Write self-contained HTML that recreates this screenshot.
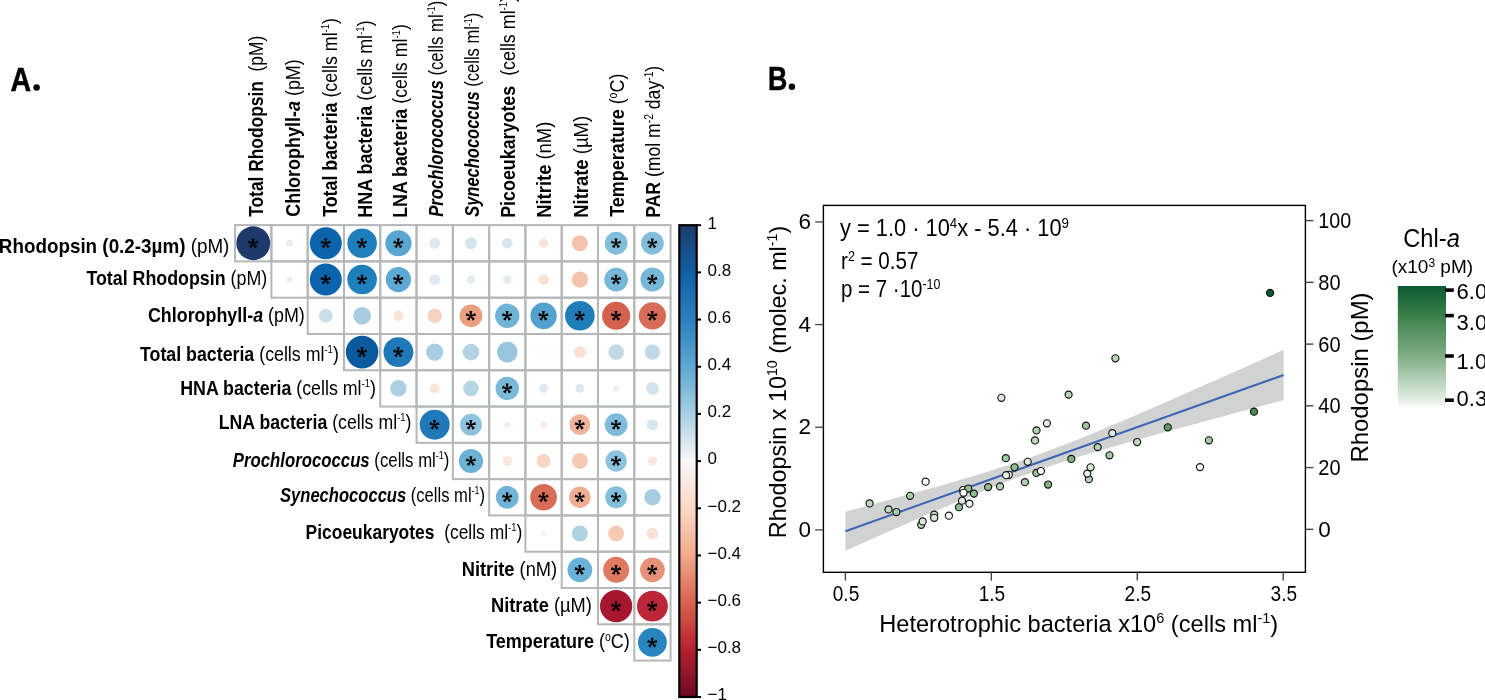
<!DOCTYPE html><html><head><meta charset="utf-8"><style>html,body{margin:0;padding:0;background:#fff;}svg{display:block;will-change:transform}text{font-family:'Liberation Sans', sans-serif;}</style></head><body>
<svg width="1485" height="700" viewBox="0 0 1485 700">
<rect width="1485" height="700" fill="#fff"/>
<text x="10.4" y="91" font-size="32.5" font-weight="bold" stroke="#000" stroke-width="0.5" textLength="20.6" lengthAdjust="spacingAndGlyphs">A</text><circle cx="36.6" cy="87.6" r="3.25" fill="#000"/>
<text x="768.0" y="90.1" font-size="32.5" font-weight="bold" stroke="#000" stroke-width="0.5" textLength="19.3" lengthAdjust="spacingAndGlyphs">B</text><circle cx="791.9" cy="86.8" r="3.2" fill="#000"/>
<g fill="none" stroke="#b4b8b8" stroke-width="2"><rect x="235.10" y="225.10" width="36.29" height="36.29"/><rect x="271.39" y="225.10" width="36.29" height="36.29"/><rect x="307.68" y="225.10" width="36.29" height="36.29"/><rect x="343.97" y="225.10" width="36.29" height="36.29"/><rect x="380.26" y="225.10" width="36.29" height="36.29"/><rect x="416.55" y="225.10" width="36.29" height="36.29"/><rect x="452.84" y="225.10" width="36.29" height="36.29"/><rect x="489.13" y="225.10" width="36.29" height="36.29"/><rect x="525.42" y="225.10" width="36.29" height="36.29"/><rect x="561.71" y="225.10" width="36.29" height="36.29"/><rect x="598.00" y="225.10" width="36.29" height="36.29"/><rect x="634.29" y="225.10" width="36.29" height="36.29"/><rect x="271.39" y="261.39" width="36.29" height="36.29"/><rect x="307.68" y="261.39" width="36.29" height="36.29"/><rect x="343.97" y="261.39" width="36.29" height="36.29"/><rect x="380.26" y="261.39" width="36.29" height="36.29"/><rect x="416.55" y="261.39" width="36.29" height="36.29"/><rect x="452.84" y="261.39" width="36.29" height="36.29"/><rect x="489.13" y="261.39" width="36.29" height="36.29"/><rect x="525.42" y="261.39" width="36.29" height="36.29"/><rect x="561.71" y="261.39" width="36.29" height="36.29"/><rect x="598.00" y="261.39" width="36.29" height="36.29"/><rect x="634.29" y="261.39" width="36.29" height="36.29"/><rect x="307.68" y="297.68" width="36.29" height="36.29"/><rect x="343.97" y="297.68" width="36.29" height="36.29"/><rect x="380.26" y="297.68" width="36.29" height="36.29"/><rect x="416.55" y="297.68" width="36.29" height="36.29"/><rect x="452.84" y="297.68" width="36.29" height="36.29"/><rect x="489.13" y="297.68" width="36.29" height="36.29"/><rect x="525.42" y="297.68" width="36.29" height="36.29"/><rect x="561.71" y="297.68" width="36.29" height="36.29"/><rect x="598.00" y="297.68" width="36.29" height="36.29"/><rect x="634.29" y="297.68" width="36.29" height="36.29"/><rect x="343.97" y="333.97" width="36.29" height="36.29"/><rect x="380.26" y="333.97" width="36.29" height="36.29"/><rect x="416.55" y="333.97" width="36.29" height="36.29"/><rect x="452.84" y="333.97" width="36.29" height="36.29"/><rect x="489.13" y="333.97" width="36.29" height="36.29"/><rect x="525.42" y="333.97" width="36.29" height="36.29"/><rect x="561.71" y="333.97" width="36.29" height="36.29"/><rect x="598.00" y="333.97" width="36.29" height="36.29"/><rect x="634.29" y="333.97" width="36.29" height="36.29"/><rect x="380.26" y="370.26" width="36.29" height="36.29"/><rect x="416.55" y="370.26" width="36.29" height="36.29"/><rect x="452.84" y="370.26" width="36.29" height="36.29"/><rect x="489.13" y="370.26" width="36.29" height="36.29"/><rect x="525.42" y="370.26" width="36.29" height="36.29"/><rect x="561.71" y="370.26" width="36.29" height="36.29"/><rect x="598.00" y="370.26" width="36.29" height="36.29"/><rect x="634.29" y="370.26" width="36.29" height="36.29"/><rect x="416.55" y="406.55" width="36.29" height="36.29"/><rect x="452.84" y="406.55" width="36.29" height="36.29"/><rect x="489.13" y="406.55" width="36.29" height="36.29"/><rect x="525.42" y="406.55" width="36.29" height="36.29"/><rect x="561.71" y="406.55" width="36.29" height="36.29"/><rect x="598.00" y="406.55" width="36.29" height="36.29"/><rect x="634.29" y="406.55" width="36.29" height="36.29"/><rect x="452.84" y="442.84" width="36.29" height="36.29"/><rect x="489.13" y="442.84" width="36.29" height="36.29"/><rect x="525.42" y="442.84" width="36.29" height="36.29"/><rect x="561.71" y="442.84" width="36.29" height="36.29"/><rect x="598.00" y="442.84" width="36.29" height="36.29"/><rect x="634.29" y="442.84" width="36.29" height="36.29"/><rect x="489.13" y="479.13" width="36.29" height="36.29"/><rect x="525.42" y="479.13" width="36.29" height="36.29"/><rect x="561.71" y="479.13" width="36.29" height="36.29"/><rect x="598.00" y="479.13" width="36.29" height="36.29"/><rect x="634.29" y="479.13" width="36.29" height="36.29"/><rect x="525.42" y="515.42" width="36.29" height="36.29"/><rect x="561.71" y="515.42" width="36.29" height="36.29"/><rect x="598.00" y="515.42" width="36.29" height="36.29"/><rect x="634.29" y="515.42" width="36.29" height="36.29"/><rect x="561.71" y="551.71" width="36.29" height="36.29"/><rect x="598.00" y="551.71" width="36.29" height="36.29"/><rect x="634.29" y="551.71" width="36.29" height="36.29"/><rect x="598.00" y="588.00" width="36.29" height="36.29"/><rect x="634.29" y="588.00" width="36.29" height="36.29"/><rect x="634.29" y="624.29" width="36.29" height="36.29"/></g>
<circle cx="253.25" cy="243.25" r="16.90" fill="#1d3a6b"/>
<circle cx="289.53" cy="243.25" r="3.50" fill="#e8eef2"/>
<circle cx="325.82" cy="243.25" r="16.00" fill="#0b64ab"/>
<circle cx="362.12" cy="243.25" r="14.80" fill="#1f7fbc"/>
<circle cx="398.40" cy="243.25" r="13.10" fill="#5aa6d2"/>
<circle cx="434.69" cy="243.25" r="5.50" fill="#dde8ef"/>
<circle cx="470.99" cy="243.25" r="5.95" fill="#d5e3ea"/>
<circle cx="507.27" cy="243.25" r="5.35" fill="#d8e7ee"/>
<circle cx="543.56" cy="243.25" r="4.60" fill="#f8e2da"/>
<circle cx="579.86" cy="243.25" r="8.00" fill="#f3c3ad"/>
<circle cx="616.14" cy="243.25" r="11.40" fill="#82bedb"/>
<circle cx="652.43" cy="243.25" r="11.40" fill="#82bedb"/>
<circle cx="289.53" cy="279.53" r="3.00" fill="#e8eef2"/>
<circle cx="325.82" cy="279.53" r="16.00" fill="#0b64ab"/>
<circle cx="362.12" cy="279.53" r="14.80" fill="#1f7fbc"/>
<circle cx="398.40" cy="279.53" r="12.60" fill="#5ea9d3"/>
<circle cx="434.69" cy="279.53" r="5.35" fill="#dde8ef"/>
<circle cx="470.99" cy="279.53" r="4.30" fill="#e2ebf0"/>
<circle cx="507.27" cy="279.53" r="4.20" fill="#e2ebf0"/>
<circle cx="543.56" cy="279.53" r="5.35" fill="#f8e2d6"/>
<circle cx="579.86" cy="279.53" r="8.15" fill="#f3c3ad"/>
<circle cx="616.14" cy="279.53" r="11.85" fill="#77b7d8"/>
<circle cx="652.43" cy="279.53" r="12.00" fill="#77b7d8"/>
<circle cx="325.82" cy="315.82" r="6.90" fill="#c8dde7"/>
<circle cx="362.12" cy="315.82" r="8.90" fill="#a8cbe0"/>
<circle cx="398.40" cy="315.82" r="5.20" fill="#f8e3d8"/>
<circle cx="434.69" cy="315.82" r="7.20" fill="#f6d2c0"/>
<circle cx="470.99" cy="315.82" r="11.35" fill="#eb9f80"/>
<circle cx="507.27" cy="315.82" r="12.20" fill="#72b4d7"/>
<circle cx="543.56" cy="315.82" r="13.20" fill="#52a1cf"/>
<circle cx="579.86" cy="315.82" r="14.80" fill="#1f7eba"/>
<circle cx="616.14" cy="315.82" r="14.05" fill="#d4604e"/>
<circle cx="652.43" cy="315.82" r="13.65" fill="#d96c57"/>
<circle cx="362.12" cy="352.12" r="16.30" fill="#0c5a9e"/>
<circle cx="398.40" cy="352.12" r="14.95" fill="#1f78b8"/>
<circle cx="434.69" cy="352.12" r="8.65" fill="#a9cde2"/>
<circle cx="470.99" cy="352.12" r="8.30" fill="#b1d3e4"/>
<circle cx="507.27" cy="352.12" r="10.35" fill="#9ac6dd"/>
<circle cx="543.56" cy="352.12" r="1.50" fill="#f2f5f7"/>
<circle cx="579.86" cy="352.12" r="5.95" fill="#fbdfd1"/>
<circle cx="616.14" cy="352.12" r="7.80" fill="#c1d9e5"/>
<circle cx="652.43" cy="352.12" r="7.70" fill="#c1d9e5"/>
<circle cx="398.40" cy="388.40" r="8.30" fill="#acd0e3"/>
<circle cx="434.69" cy="388.40" r="4.95" fill="#fbe4da"/>
<circle cx="470.99" cy="388.40" r="7.80" fill="#b7d6e4"/>
<circle cx="507.27" cy="388.40" r="11.70" fill="#7ab9d9"/>
<circle cx="543.56" cy="388.40" r="4.55" fill="#dfe9ef"/>
<circle cx="579.86" cy="388.40" r="4.40" fill="#dfe9ef"/>
<circle cx="616.14" cy="388.40" r="3.00" fill="#ecf1f3"/>
<circle cx="652.43" cy="388.40" r="6.45" fill="#d3e4ec"/>
<circle cx="434.69" cy="424.69" r="14.95" fill="#1f78b8"/>
<circle cx="470.99" cy="424.69" r="10.90" fill="#8ec2dd"/>
<circle cx="507.27" cy="424.69" r="2.80" fill="#e8eef2"/>
<circle cx="543.56" cy="424.69" r="3.40" fill="#f9ece8"/>
<circle cx="579.86" cy="424.69" r="10.35" fill="#f0b29a"/>
<circle cx="616.14" cy="424.69" r="11.40" fill="#7fbcdb"/>
<circle cx="652.43" cy="424.69" r="5.55" fill="#d6e6ee"/>
<circle cx="470.99" cy="460.99" r="12.10" fill="#6cb2d6"/>
<circle cx="507.27" cy="460.99" r="4.80" fill="#fae6dd"/>
<circle cx="543.56" cy="460.99" r="7.00" fill="#f7d4c4"/>
<circle cx="579.86" cy="460.99" r="7.95" fill="#f5c9b4"/>
<circle cx="616.14" cy="460.99" r="10.70" fill="#8cc3de"/>
<circle cx="652.43" cy="460.99" r="4.55" fill="#fae6dd"/>
<circle cx="507.27" cy="497.27" r="11.40" fill="#72b4d8"/>
<circle cx="543.56" cy="497.27" r="13.30" fill="#d86d57"/>
<circle cx="579.86" cy="497.27" r="10.70" fill="#efad94"/>
<circle cx="616.14" cy="497.27" r="10.95" fill="#84bfdc"/>
<circle cx="652.43" cy="497.27" r="8.25" fill="#a8cde2"/>
<circle cx="543.56" cy="533.56" r="2.50" fill="#f8f2ef"/>
<circle cx="579.86" cy="533.56" r="8.00" fill="#b0d3e4"/>
<circle cx="616.14" cy="533.56" r="8.00" fill="#f6cbb6"/>
<circle cx="652.43" cy="533.56" r="5.75" fill="#f9e0d4"/>
<circle cx="579.86" cy="569.86" r="12.35" fill="#6ab2d7"/>
<circle cx="616.14" cy="569.86" r="13.00" fill="#df7a62"/>
<circle cx="652.43" cy="569.86" r="12.35" fill="#e8917a"/>
<circle cx="616.14" cy="606.14" r="16.15" fill="#a6172f"/>
<circle cx="652.43" cy="606.14" r="15.45" fill="#bb2638"/>
<circle cx="652.43" cy="642.43" r="14.40" fill="#2885c0"/>
<path d="M253.54 243.40L254.59 238.45L251.59 238.45L252.65 243.40ZM253.23 243.82L258.27 243.29L257.34 240.44L252.96 242.97ZM252.73 243.66L254.79 248.28L257.22 246.52L253.46 243.13ZM252.73 243.13L248.97 246.52L251.40 248.28L253.46 243.66ZM253.23 242.97L248.85 240.44L247.92 243.29L252.96 243.82Z" fill="#000"/><circle cx="253.09" cy="243.40" r="1.1" fill="#000"/>
<path d="M326.12 243.40L327.18 238.45L324.18 238.45L325.23 243.40ZM325.81 243.82L330.85 243.29L329.92 240.44L325.54 242.97ZM325.31 243.66L327.37 248.28L329.80 246.52L326.04 243.13ZM325.31 243.13L321.55 246.52L323.98 248.28L326.04 243.66ZM325.81 242.97L321.43 240.44L320.50 243.29L325.54 243.82Z" fill="#000"/><circle cx="325.68" cy="243.40" r="1.1" fill="#000"/>
<path d="M362.42 243.40L363.47 238.45L360.47 238.45L361.52 243.40ZM362.10 243.82L367.14 243.29L366.21 240.44L361.83 242.97ZM361.60 243.66L363.66 248.28L366.09 246.52L362.33 243.13ZM361.60 243.13L357.84 246.52L360.27 248.28L362.33 243.66ZM362.10 242.97L357.72 240.44L356.79 243.29L361.83 243.82Z" fill="#000"/><circle cx="361.97" cy="243.40" r="1.1" fill="#000"/>
<path d="M398.70 243.40L399.75 238.45L396.75 238.45L397.81 243.40ZM398.39 243.82L403.43 243.29L402.50 240.44L398.12 242.97ZM397.89 243.66L399.95 248.28L402.38 246.52L398.62 243.13ZM397.89 243.13L394.13 246.52L396.56 248.28L398.62 243.66ZM398.39 242.97L394.01 240.44L393.08 243.29L398.12 243.82Z" fill="#000"/><circle cx="398.25" cy="243.40" r="1.1" fill="#000"/>
<path d="M616.45 243.40L617.50 238.45L614.50 238.45L615.54 243.40ZM616.13 243.82L621.17 243.29L620.24 240.44L615.86 242.97ZM615.63 243.66L617.69 248.28L620.12 246.52L616.36 243.13ZM615.63 243.13L611.87 246.52L614.30 248.28L616.36 243.66ZM616.13 242.97L611.75 240.44L610.82 243.29L615.86 243.82Z" fill="#000"/><circle cx="616.00" cy="243.40" r="1.1" fill="#000"/>
<path d="M652.74 243.40L653.78 238.45L650.78 238.45L651.83 243.40ZM652.42 243.82L657.46 243.29L656.53 240.44L652.15 242.97ZM651.92 243.66L653.98 248.28L656.41 246.52L652.65 243.13ZM651.92 243.13L648.16 246.52L650.59 248.28L652.65 243.66ZM652.42 242.97L648.04 240.44L647.11 243.29L652.15 243.82Z" fill="#000"/><circle cx="652.28" cy="243.40" r="1.1" fill="#000"/>
<path d="M326.12 279.68L327.18 274.73L324.18 274.73L325.23 279.68ZM325.81 280.11L330.85 279.58L329.92 276.73L325.54 279.26ZM325.31 279.95L327.37 284.57L329.80 282.81L326.04 279.42ZM325.31 279.42L321.55 282.81L323.98 284.57L326.04 279.95ZM325.81 279.26L321.43 276.73L320.50 279.58L325.54 280.11Z" fill="#000"/><circle cx="325.68" cy="279.68" r="1.1" fill="#000"/>
<path d="M362.42 279.68L363.47 274.73L360.47 274.73L361.52 279.68ZM362.10 280.11L367.14 279.58L366.21 276.73L361.83 279.26ZM361.60 279.95L363.66 284.57L366.09 282.81L362.33 279.42ZM361.60 279.42L357.84 282.81L360.27 284.57L362.33 279.95ZM362.10 279.26L357.72 276.73L356.79 279.58L361.83 280.11Z" fill="#000"/><circle cx="361.97" cy="279.68" r="1.1" fill="#000"/>
<path d="M398.70 279.68L399.75 274.73L396.75 274.73L397.81 279.68ZM398.39 280.11L403.43 279.58L402.50 276.73L398.12 279.26ZM397.89 279.95L399.95 284.57L402.38 282.81L398.62 279.42ZM397.89 279.42L394.13 282.81L396.56 284.57L398.62 279.95ZM398.39 279.26L394.01 276.73L393.08 279.58L398.12 280.11Z" fill="#000"/><circle cx="398.25" cy="279.68" r="1.1" fill="#000"/>
<path d="M616.45 279.68L617.50 274.73L614.50 274.73L615.54 279.68ZM616.13 280.11L621.17 279.58L620.24 276.73L615.86 279.26ZM615.63 279.95L617.69 284.57L620.12 282.81L616.36 279.42ZM615.63 279.42L611.87 282.81L614.30 284.57L616.36 279.95ZM616.13 279.26L611.75 276.73L610.82 279.58L615.86 280.11Z" fill="#000"/><circle cx="616.00" cy="279.68" r="1.1" fill="#000"/>
<path d="M652.74 279.68L653.78 274.73L650.78 274.73L651.83 279.68ZM652.42 280.11L657.46 279.58L656.53 276.73L652.15 279.26ZM651.92 279.95L653.98 284.57L656.41 282.81L652.65 279.42ZM651.92 279.42L648.16 282.81L650.59 284.57L652.65 279.95ZM652.42 279.26L648.04 276.73L647.11 279.58L652.15 280.11Z" fill="#000"/><circle cx="652.28" cy="279.68" r="1.1" fill="#000"/>
<path d="M471.29 315.97L472.34 311.02L469.34 311.02L470.39 315.97ZM470.97 316.40L476.01 315.87L475.08 313.02L470.70 315.55ZM470.47 316.24L472.53 320.86L474.96 319.10L471.20 315.71ZM470.47 315.71L466.71 319.10L469.14 320.86L471.20 316.24ZM470.97 315.55L466.59 313.02L465.66 315.87L470.70 316.40Z" fill="#000"/><circle cx="470.84" cy="315.97" r="1.1" fill="#000"/>
<path d="M507.57 315.97L508.62 311.02L505.62 311.02L506.68 315.97ZM507.26 316.40L512.30 315.87L511.37 313.02L506.99 315.55ZM506.76 316.24L508.82 320.86L511.25 319.10L507.49 315.71ZM506.76 315.71L503.00 319.10L505.43 320.86L507.49 316.24ZM507.26 315.55L502.88 313.02L501.95 315.87L506.99 316.40Z" fill="#000"/><circle cx="507.12" cy="315.97" r="1.1" fill="#000"/>
<path d="M543.87 315.97L544.91 311.02L541.91 311.02L542.96 315.97ZM543.55 316.40L548.59 315.87L547.66 313.02L543.28 315.55ZM543.05 316.24L545.11 320.86L547.54 319.10L543.78 315.71ZM543.05 315.71L539.29 319.10L541.72 320.86L543.78 316.24ZM543.55 315.55L539.17 313.02L538.24 315.87L543.28 316.40Z" fill="#000"/><circle cx="543.41" cy="315.97" r="1.1" fill="#000"/>
<path d="M580.16 315.97L581.21 311.02L578.21 311.02L579.25 315.97ZM579.84 316.40L584.88 315.87L583.95 313.02L579.57 315.55ZM579.34 316.24L581.40 320.86L583.83 319.10L580.07 315.71ZM579.34 315.71L575.58 319.10L578.01 320.86L580.07 316.24ZM579.84 315.55L575.46 313.02L574.53 315.87L579.57 316.40Z" fill="#000"/><circle cx="579.71" cy="315.97" r="1.1" fill="#000"/>
<path d="M616.45 315.97L617.50 311.02L614.50 311.02L615.54 315.97ZM616.13 316.40L621.17 315.87L620.24 313.02L615.86 315.55ZM615.63 316.24L617.69 320.86L620.12 319.10L616.36 315.71ZM615.63 315.71L611.87 319.10L614.30 320.86L616.36 316.24ZM616.13 315.55L611.75 313.02L610.82 315.87L615.86 316.40Z" fill="#000"/><circle cx="616.00" cy="315.97" r="1.1" fill="#000"/>
<path d="M652.74 315.97L653.78 311.02L650.78 311.02L651.83 315.97ZM652.42 316.40L657.46 315.87L656.53 313.02L652.15 315.55ZM651.92 316.24L653.98 320.86L656.41 319.10L652.65 315.71ZM651.92 315.71L648.16 319.10L650.59 320.86L652.65 316.24ZM652.42 315.55L648.04 313.02L647.11 315.87L652.15 316.40Z" fill="#000"/><circle cx="652.28" cy="315.97" r="1.1" fill="#000"/>
<path d="M362.42 352.26L363.47 347.31L360.47 347.31L361.52 352.26ZM362.10 352.69L367.14 352.16L366.21 349.31L361.83 351.84ZM361.60 352.53L363.66 357.15L366.09 355.39L362.33 352.00ZM361.60 352.00L357.84 355.39L360.27 357.15L362.33 352.53ZM362.10 351.84L357.72 349.31L356.79 352.16L361.83 352.69Z" fill="#000"/><circle cx="361.97" cy="352.26" r="1.1" fill="#000"/>
<path d="M398.70 352.26L399.75 347.31L396.75 347.31L397.81 352.26ZM398.39 352.69L403.43 352.16L402.50 349.31L398.12 351.84ZM397.89 352.53L399.95 357.15L402.38 355.39L398.62 352.00ZM397.89 352.00L394.13 355.39L396.56 357.15L398.62 352.53ZM398.39 351.84L394.01 349.31L393.08 352.16L398.12 352.69Z" fill="#000"/><circle cx="398.25" cy="352.26" r="1.1" fill="#000"/>
<path d="M507.57 388.55L508.62 383.60L505.62 383.60L506.68 388.55ZM507.26 388.98L512.30 388.45L511.37 385.60L506.99 388.13ZM506.76 388.82L508.82 393.44L511.25 391.68L507.49 388.29ZM506.76 388.29L503.00 391.68L505.43 393.44L507.49 388.82ZM507.26 388.13L502.88 385.60L501.95 388.45L506.99 388.98Z" fill="#000"/><circle cx="507.12" cy="388.55" r="1.1" fill="#000"/>
<path d="M435.00 424.84L436.05 419.89L433.05 419.89L434.10 424.84ZM434.68 425.27L439.72 424.74L438.79 421.89L434.41 424.42ZM434.18 425.11L436.24 429.73L438.67 427.97L434.91 424.58ZM434.18 424.58L430.42 427.97L432.85 429.73L434.91 425.11ZM434.68 424.42L430.30 421.89L429.37 424.74L434.41 425.27Z" fill="#000"/><circle cx="434.55" cy="424.84" r="1.1" fill="#000"/>
<path d="M471.29 424.84L472.34 419.89L469.34 419.89L470.39 424.84ZM470.97 425.27L476.01 424.74L475.08 421.89L470.70 424.42ZM470.47 425.11L472.53 429.73L474.96 427.97L471.20 424.58ZM470.47 424.58L466.71 427.97L469.14 429.73L471.20 425.11ZM470.97 424.42L466.59 421.89L465.66 424.74L470.70 425.27Z" fill="#000"/><circle cx="470.84" cy="424.84" r="1.1" fill="#000"/>
<path d="M580.16 424.84L581.21 419.89L578.21 419.89L579.25 424.84ZM579.84 425.27L584.88 424.74L583.95 421.89L579.57 424.42ZM579.34 425.11L581.40 429.73L583.83 427.97L580.07 424.58ZM579.34 424.58L575.58 427.97L578.01 429.73L580.07 425.11ZM579.84 424.42L575.46 421.89L574.53 424.74L579.57 425.27Z" fill="#000"/><circle cx="579.71" cy="424.84" r="1.1" fill="#000"/>
<path d="M616.45 424.84L617.50 419.89L614.50 419.89L615.54 424.84ZM616.13 425.27L621.17 424.74L620.24 421.89L615.86 424.42ZM615.63 425.11L617.69 429.73L620.12 427.97L616.36 424.58ZM615.63 424.58L611.87 427.97L614.30 429.73L616.36 425.11ZM616.13 424.42L611.75 421.89L610.82 424.74L615.86 425.27Z" fill="#000"/><circle cx="616.00" cy="424.84" r="1.1" fill="#000"/>
<path d="M471.29 461.13L472.34 456.19L469.34 456.19L470.39 461.13ZM470.97 461.56L476.01 461.03L475.08 458.18L470.70 460.71ZM470.47 461.40L472.53 466.02L474.96 464.26L471.20 460.87ZM470.47 460.87L466.71 464.26L469.14 466.02L471.20 461.40ZM470.97 460.71L466.59 458.18L465.66 461.03L470.70 461.56Z" fill="#000"/><circle cx="470.84" cy="461.13" r="1.1" fill="#000"/>
<path d="M616.45 461.13L617.50 456.19L614.50 456.19L615.54 461.13ZM616.13 461.56L621.17 461.03L620.24 458.18L615.86 460.71ZM615.63 461.40L617.69 466.02L620.12 464.26L616.36 460.87ZM615.63 460.87L611.87 464.26L614.30 466.02L616.36 461.40ZM616.13 460.71L611.75 458.18L610.82 461.03L615.86 461.56Z" fill="#000"/><circle cx="616.00" cy="461.13" r="1.1" fill="#000"/>
<path d="M507.57 497.42L508.62 492.47L505.62 492.47L506.68 497.42ZM507.26 497.85L512.30 497.32L511.37 494.47L506.99 497.00ZM506.76 497.69L508.82 502.31L511.25 500.55L507.49 497.16ZM506.76 497.16L503.00 500.55L505.43 502.31L507.49 497.69ZM507.26 497.00L502.88 494.47L501.95 497.32L506.99 497.85Z" fill="#000"/><circle cx="507.12" cy="497.42" r="1.1" fill="#000"/>
<path d="M543.87 497.42L544.91 492.47L541.91 492.47L542.96 497.42ZM543.55 497.85L548.59 497.32L547.66 494.47L543.28 497.00ZM543.05 497.69L545.11 502.31L547.54 500.55L543.78 497.16ZM543.05 497.16L539.29 500.55L541.72 502.31L543.78 497.69ZM543.55 497.00L539.17 494.47L538.24 497.32L543.28 497.85Z" fill="#000"/><circle cx="543.41" cy="497.42" r="1.1" fill="#000"/>
<path d="M580.16 497.42L581.21 492.47L578.21 492.47L579.25 497.42ZM579.84 497.85L584.88 497.32L583.95 494.47L579.57 497.00ZM579.34 497.69L581.40 502.31L583.83 500.55L580.07 497.16ZM579.34 497.16L575.58 500.55L578.01 502.31L580.07 497.69ZM579.84 497.00L575.46 494.47L574.53 497.32L579.57 497.85Z" fill="#000"/><circle cx="579.71" cy="497.42" r="1.1" fill="#000"/>
<path d="M616.45 497.42L617.50 492.47L614.50 492.47L615.54 497.42ZM616.13 497.85L621.17 497.32L620.24 494.47L615.86 497.00ZM615.63 497.69L617.69 502.31L620.12 500.55L616.36 497.16ZM615.63 497.16L611.87 500.55L614.30 502.31L616.36 497.69ZM616.13 497.00L611.75 494.47L610.82 497.32L615.86 497.85Z" fill="#000"/><circle cx="616.00" cy="497.42" r="1.1" fill="#000"/>
<path d="M580.16 570.00L581.21 565.05L578.21 565.05L579.25 570.00ZM579.84 570.43L584.88 569.90L583.95 567.05L579.57 569.58ZM579.34 570.27L581.40 574.89L583.83 573.13L580.07 569.74ZM579.34 569.74L575.58 573.13L578.01 574.89L580.07 570.27ZM579.84 569.58L575.46 567.05L574.53 569.90L579.57 570.43Z" fill="#000"/><circle cx="579.71" cy="570.00" r="1.1" fill="#000"/>
<path d="M616.45 570.00L617.50 565.05L614.50 565.05L615.54 570.00ZM616.13 570.43L621.17 569.90L620.24 567.05L615.86 569.58ZM615.63 570.27L617.69 574.89L620.12 573.13L616.36 569.74ZM615.63 569.74L611.87 573.13L614.30 574.89L616.36 570.27ZM616.13 569.58L611.75 567.05L610.82 569.90L615.86 570.43Z" fill="#000"/><circle cx="616.00" cy="570.00" r="1.1" fill="#000"/>
<path d="M652.74 570.00L653.78 565.05L650.78 565.05L651.83 570.00ZM652.42 570.43L657.46 569.90L656.53 567.05L652.15 569.58ZM651.92 570.27L653.98 574.89L656.41 573.13L652.65 569.74ZM651.92 569.74L648.16 573.13L650.59 574.89L652.65 570.27ZM652.42 569.58L648.04 567.05L647.11 569.90L652.15 570.43Z" fill="#000"/><circle cx="652.28" cy="570.00" r="1.1" fill="#000"/>
<path d="M616.45 606.29L617.50 601.34L614.50 601.34L615.54 606.29ZM616.13 606.72L621.17 606.19L620.24 603.34L615.86 605.87ZM615.63 606.56L617.69 611.18L620.12 609.42L616.36 606.03ZM615.63 606.03L611.87 609.42L614.30 611.18L616.36 606.56ZM616.13 605.87L611.75 603.34L610.82 606.19L615.86 606.72Z" fill="#000"/><circle cx="616.00" cy="606.29" r="1.1" fill="#000"/>
<path d="M652.74 606.29L653.78 601.34L650.78 601.34L651.83 606.29ZM652.42 606.72L657.46 606.19L656.53 603.34L652.15 605.87ZM651.92 606.56L653.98 611.18L656.41 609.42L652.65 606.03ZM651.92 606.03L648.16 609.42L650.59 611.18L652.65 606.56ZM652.42 605.87L648.04 603.34L647.11 606.19L652.15 606.72Z" fill="#000"/><circle cx="652.28" cy="606.29" r="1.1" fill="#000"/>
<path d="M652.74 642.58L653.78 637.63L650.78 637.63L651.83 642.58ZM652.42 643.01L657.46 642.48L656.53 639.63L652.15 642.16ZM651.92 642.85L653.98 647.47L656.41 645.71L652.65 642.32ZM651.92 642.32L648.16 645.71L650.59 647.47L652.65 642.85ZM652.42 642.16L648.04 639.63L647.11 642.48L652.15 643.01Z" fill="#000"/><circle cx="652.28" cy="642.58" r="1.1" fill="#000"/>
<text x="229.40" y="253.00" font-size="20.5" font-weight="bold" text-anchor="end" textLength="230.62" lengthAdjust="spacingAndGlyphs">Rhodopsin (0.2-3µm)<tspan font-weight="normal"> (pM)</tspan></text>
<text x="267.20" y="285.00" font-size="20.5" font-weight="bold" text-anchor="end" textLength="180.82" lengthAdjust="spacingAndGlyphs">Total Rhodopsin<tspan font-weight="normal"> (pM)</tspan></text>
<text x="304.80" y="321.80" font-size="20.5" font-weight="bold" text-anchor="end" textLength="156.82" lengthAdjust="spacingAndGlyphs">Chlorophyll-<tspan font-style="italic">a</tspan><tspan font-weight="normal"> (pM)</tspan></text>
<text x="338.80" y="360.80" font-size="20.5" font-weight="bold" text-anchor="end" textLength="198.81" lengthAdjust="spacingAndGlyphs">Total bacteria<tspan font-weight="normal"> (cells ml<tspan dy="-7.5" font-size="11">-1</tspan><tspan dy="7.5">)</tspan></tspan></text>
<text x="376.00" y="394.90" font-size="20.5" font-weight="bold" text-anchor="end" textLength="195.82" lengthAdjust="spacingAndGlyphs">HNA bacteria<tspan font-weight="normal"> (cells ml<tspan dy="-7.5" font-size="11">-1</tspan><tspan dy="7.5">)</tspan></tspan></text>
<text x="411.40" y="428.90" font-size="20.5" font-weight="bold" text-anchor="end" textLength="192.62" lengthAdjust="spacingAndGlyphs">LNA bacteria<tspan font-weight="normal"> (cells ml<tspan dy="-7.5" font-size="11">-1</tspan><tspan dy="7.5">)</tspan></tspan></text>
<text x="449.40" y="466.70" font-size="20.5" font-weight="bold" text-anchor="end" textLength="216.62" lengthAdjust="spacingAndGlyphs"><tspan font-style="italic">Prochlorococcus</tspan><tspan font-weight="normal"> (cells ml<tspan dy="-7.5" font-size="11">-1</tspan><tspan dy="7.5">)</tspan></tspan></text>
<text x="485.00" y="501.70" font-size="20.5" font-weight="bold" text-anchor="end" textLength="205.00" lengthAdjust="spacingAndGlyphs"><tspan font-style="italic">Synechococcus</tspan><tspan font-weight="normal"> (cells ml<tspan dy="-7.5" font-size="11">-1</tspan><tspan dy="7.5">)</tspan></tspan></text>
<text x="522.20" y="538.90" font-size="20.5" font-weight="bold" text-anchor="end" textLength="216.62" lengthAdjust="spacingAndGlyphs">Picoeukaryotes <tspan font-weight="normal"> (cells ml<tspan dy="-7.5" font-size="11">-1</tspan><tspan dy="7.5">)</tspan></tspan></text>
<text x="557.20" y="575.70" font-size="20.5" font-weight="bold" text-anchor="end" textLength="95.49" lengthAdjust="spacingAndGlyphs">Nitrite<tspan font-weight="normal"> (nM)</tspan></text>
<text x="591.80" y="611.70" font-size="20.5" font-weight="bold" text-anchor="end" textLength="100.84" lengthAdjust="spacingAndGlyphs">Nitrate<tspan font-weight="normal"> (µM)</tspan></text>
<text x="629.80" y="647.90" font-size="20.5" font-weight="bold" text-anchor="end" textLength="143.62" lengthAdjust="spacingAndGlyphs">Temperature<tspan font-weight="normal"> (<tspan dy="-7" font-size="12">o</tspan><tspan dy="7">C)</tspan></tspan></text>
<text transform="translate(263.30,216.80) rotate(-90)" x="0" y="0" font-size="20.5" font-weight="bold" textLength="181.01" lengthAdjust="spacingAndGlyphs">Total Rhodopsin<tspan font-weight="normal">  (pM)</tspan></text>
<text transform="translate(300.20,216.80) rotate(-90)" x="0" y="0" font-size="20.5" font-weight="bold" textLength="157.62" lengthAdjust="spacingAndGlyphs">Chlorophyll-<tspan font-style="italic">a</tspan><tspan font-weight="normal"> (pM)</tspan></text>
<text transform="translate(336.60,216.80) rotate(-90)" x="0" y="0" font-size="20.5" font-weight="bold" textLength="198.81" lengthAdjust="spacingAndGlyphs">Total bacteria<tspan font-weight="normal"> (cells ml<tspan dy="-7.5" font-size="11">-1</tspan><tspan dy="7.5">)</tspan></tspan></text>
<text transform="translate(371.90,217.80) rotate(-90)" x="0" y="0" font-size="20.5" font-weight="bold" textLength="197.44" lengthAdjust="spacingAndGlyphs">HNA bacteria<tspan font-weight="normal"> (cells ml<tspan dy="-7.5" font-size="11">-1</tspan><tspan dy="7.5">)</tspan></tspan></text>
<text transform="translate(407.10,217.80) rotate(-90)" x="0" y="0" font-size="20.5" font-weight="bold" textLength="193.63" lengthAdjust="spacingAndGlyphs">LNA bacteria<tspan font-weight="normal"> (cells ml<tspan dy="-7.5" font-size="11">-1</tspan><tspan dy="7.5">)</tspan></tspan></text>
<text transform="translate(442.70,216.80) rotate(-90)" x="0" y="0" font-size="20.5" font-weight="bold" textLength="216.02" lengthAdjust="spacingAndGlyphs"><tspan font-style="italic">Prochlorococcus</tspan><tspan font-weight="normal"> (cells ml<tspan dy="-7.5" font-size="11">-1</tspan><tspan dy="7.5">)</tspan></tspan></text>
<text transform="translate(479.30,216.80) rotate(-90)" x="0" y="0" font-size="20.5" font-weight="bold" textLength="204.01" lengthAdjust="spacingAndGlyphs"><tspan font-style="italic">Synechococcus</tspan><tspan font-weight="normal"> (cells ml<tspan dy="-7.5" font-size="11">-1</tspan><tspan dy="7.5">)</tspan></tspan></text>
<text transform="translate(514.90,217.80) rotate(-90)" x="0" y="0" font-size="20.5" font-weight="bold" textLength="221.88" lengthAdjust="spacingAndGlyphs">Picoeukaryotes <tspan font-weight="normal"> (cells ml<tspan dy="-7.5" font-size="11">-1</tspan><tspan dy="7.5">)</tspan></tspan></text>
<text transform="translate(551.00,217.80) rotate(-90)" x="0" y="0" font-size="20.5" font-weight="bold" textLength="96.09" lengthAdjust="spacingAndGlyphs">Nitrite<tspan font-weight="normal"> (nM)</tspan></text>
<text transform="translate(588.10,217.80) rotate(-90)" x="0" y="0" font-size="20.5" font-weight="bold" textLength="101.86" lengthAdjust="spacingAndGlyphs">Nitrate<tspan font-weight="normal"> (µM)</tspan></text>
<text transform="translate(624.10,216.80) rotate(-90)" x="0" y="0" font-size="20.5" font-weight="bold" textLength="143.23" lengthAdjust="spacingAndGlyphs">Temperature<tspan font-weight="normal"> (<tspan dy="-7" font-size="12">o</tspan><tspan dy="7">C)</tspan></tspan></text>
<text transform="translate(660.10,217.80) rotate(-90)" x="0" y="0" font-size="20.5" font-weight="bold" textLength="152.03" lengthAdjust="spacingAndGlyphs">PAR<tspan font-weight="normal"> (mol m<tspan dy="-7" font-size="12">-2</tspan><tspan dy="7"> day</tspan><tspan dy="-7" font-size="12">-1</tspan><tspan dy="7">)</tspan></tspan></text>
<defs><linearGradient id="cb" x1="0" y1="0" x2="0" y2="1"><stop offset="0.000" stop-color="#1f3d6d"/><stop offset="0.100" stop-color="#0f5ea4"/><stop offset="0.200" stop-color="#2d80bd"/><stop offset="0.300" stop-color="#5ea8d2"/><stop offset="0.400" stop-color="#a9cfe3"/><stop offset="0.500" stop-color="#f7f7f7"/><stop offset="0.600" stop-color="#fbd9c6"/><stop offset="0.700" stop-color="#f2a98c"/><stop offset="0.800" stop-color="#d8634e"/><stop offset="0.900" stop-color="#b7202f"/><stop offset="1.000" stop-color="#6a0a24"/></linearGradient>
<linearGradient id="gb" x1="0" y1="0" x2="0" y2="1"><stop offset="0.000" stop-color="#0b5a32"/><stop offset="0.242" stop-color="#3a7f4a"/><stop offset="0.583" stop-color="#7fae84"/><stop offset="0.783" stop-color="#b5d0b8"/><stop offset="0.950" stop-color="#e6efe6"/><stop offset="1.000" stop-color="#f5f7f5"/></linearGradient></defs>
<rect x="679.3" y="225.2" width="17.4" height="471.8" fill="url(#cb)" stroke="#000" stroke-width="2.2"/>
<line x1="696" x2="701" y1="225.20" y2="225.20" stroke="#000" stroke-width="2"/>
<text x="707.5" y="228.50" font-size="17">1</text>
<line x1="696" x2="701" y1="272.38" y2="272.38" stroke="#000" stroke-width="2"/>
<text x="707.5" y="275.68" font-size="17">0.8</text>
<line x1="696" x2="701" y1="319.56" y2="319.56" stroke="#000" stroke-width="2"/>
<text x="707.5" y="322.86" font-size="17">0.6</text>
<line x1="696" x2="701" y1="366.74" y2="366.74" stroke="#000" stroke-width="2"/>
<text x="707.5" y="370.04" font-size="17">0.4</text>
<line x1="696" x2="701" y1="413.92" y2="413.92" stroke="#000" stroke-width="2"/>
<text x="707.5" y="417.22" font-size="17">0.2</text>
<line x1="696" x2="701" y1="461.10" y2="461.10" stroke="#000" stroke-width="2"/>
<text x="707.5" y="464.40" font-size="17">0</text>
<line x1="696" x2="701" y1="508.28" y2="508.28" stroke="#000" stroke-width="2"/>
<text x="707.5" y="511.58" font-size="17">−0.2</text>
<line x1="696" x2="701" y1="555.46" y2="555.46" stroke="#000" stroke-width="2"/>
<text x="707.5" y="558.76" font-size="17">−0.4</text>
<line x1="696" x2="701" y1="602.64" y2="602.64" stroke="#000" stroke-width="2"/>
<text x="707.5" y="605.94" font-size="17">−0.6</text>
<line x1="696" x2="701" y1="649.82" y2="649.82" stroke="#000" stroke-width="2"/>
<text x="707.5" y="653.12" font-size="17">−0.8</text>
<line x1="696" x2="701" y1="697.00" y2="697.00" stroke="#000" stroke-width="2"/>
<text x="707.5" y="700.30" font-size="17">−1</text>
<path d="M845.40 511.75 L852.70 509.78 L860.01 507.81 L867.31 505.83 L874.61 503.85 L881.92 501.86 L889.22 499.87 L896.52 497.87 L903.83 495.86 L911.13 493.84 L918.43 491.80 L925.74 489.76 L933.04 487.70 L940.34 485.63 L947.65 483.54 L954.95 481.43 L962.25 479.29 L969.56 477.13 L976.86 474.93 L984.16 472.70 L991.47 470.43 L998.77 468.12 L1006.07 465.76 L1013.38 463.34 L1020.68 460.87 L1027.98 458.33 L1035.29 455.74 L1042.59 453.08 L1049.89 450.36 L1057.20 447.58 L1064.50 444.75 L1071.80 441.87 L1079.11 438.94 L1086.41 435.97 L1093.71 432.97 L1101.02 429.93 L1108.32 426.87 L1115.62 423.78 L1122.93 420.67 L1130.23 417.54 L1137.53 414.39 L1144.84 411.23 L1152.14 408.06 L1159.44 404.88 L1166.75 401.68 L1174.05 398.48 L1181.35 395.27 L1188.66 392.05 L1195.96 388.83 L1203.26 385.60 L1210.57 382.37 L1217.87 379.13 L1225.17 375.89 L1232.48 372.64 L1239.78 369.39 L1247.08 366.14 L1254.39 362.88 L1261.69 359.63 L1268.99 356.37 L1276.30 353.10 L1283.60 349.84 L1283.60 400.16 L1276.30 402.10 L1268.99 404.05 L1261.69 405.99 L1254.39 407.94 L1247.08 409.89 L1239.78 411.85 L1232.48 413.81 L1225.17 415.77 L1217.87 417.73 L1210.57 419.70 L1203.26 421.67 L1195.96 423.65 L1188.66 425.63 L1181.35 427.62 L1174.05 429.62 L1166.75 431.62 L1159.44 433.64 L1152.14 435.66 L1144.84 437.69 L1137.53 439.74 L1130.23 441.80 L1122.93 443.88 L1115.62 445.97 L1108.32 448.09 L1101.02 450.23 L1093.71 452.40 L1086.41 454.61 L1079.11 456.84 L1071.80 459.12 L1064.50 461.45 L1057.20 463.82 L1049.89 466.25 L1042.59 468.74 L1035.29 471.29 L1027.98 473.90 L1020.68 476.57 L1013.38 479.30 L1006.07 482.09 L998.77 484.94 L991.47 487.83 L984.16 490.77 L976.86 493.75 L969.56 496.76 L962.25 499.80 L954.95 502.87 L947.65 505.97 L940.34 509.08 L933.04 512.22 L925.74 515.37 L918.43 518.53 L911.13 521.70 L903.83 524.89 L896.52 528.09 L889.22 531.29 L881.92 534.50 L874.61 537.72 L867.31 540.95 L860.01 544.18 L852.70 547.41 L845.40 550.65Z" fill="#d1d2d2"/>
<line x1="845.4" y1="531.2" x2="1283.6" y2="375.0" stroke="#3f66b5" stroke-width="2"/>
<circle cx="869.60" cy="503.40" r="3.55" fill="#bcd8bc" stroke="#111" stroke-width="1.15"/>
<circle cx="888.50" cy="509.40" r="3.55" fill="#bcd8bc" stroke="#111" stroke-width="1.15"/>
<circle cx="896.40" cy="512.00" r="3.55" fill="#a8cca8" stroke="#111" stroke-width="1.15"/>
<circle cx="910.10" cy="495.80" r="3.55" fill="#a8cca8" stroke="#111" stroke-width="1.15"/>
<circle cx="925.60" cy="481.70" r="3.55" fill="#ffffff" stroke="#111" stroke-width="1.15"/>
<circle cx="921.20" cy="524.80" r="3.55" fill="#bcd8bc" stroke="#111" stroke-width="1.15"/>
<circle cx="922.70" cy="521.40" r="3.55" fill="#dcebdc" stroke="#111" stroke-width="1.15"/>
<circle cx="934.20" cy="514.60" r="3.55" fill="#cfe3cf" stroke="#111" stroke-width="1.15"/>
<circle cx="934.20" cy="517.80" r="3.55" fill="#dcebdc" stroke="#111" stroke-width="1.15"/>
<circle cx="948.90" cy="515.70" r="3.55" fill="#ffffff" stroke="#111" stroke-width="1.15"/>
<circle cx="959.00" cy="507.20" r="3.55" fill="#8fbd8f" stroke="#111" stroke-width="1.15"/>
<circle cx="962.00" cy="500.70" r="3.55" fill="#dcebdc" stroke="#111" stroke-width="1.15"/>
<circle cx="963.20" cy="490.00" r="3.55" fill="#ffffff" stroke="#111" stroke-width="1.15"/>
<circle cx="968.30" cy="488.50" r="3.55" fill="#8fbd8f" stroke="#111" stroke-width="1.15"/>
<circle cx="963.50" cy="492.80" r="3.55" fill="#ffffff" stroke="#111" stroke-width="1.15"/>
<circle cx="973.90" cy="493.60" r="3.55" fill="#8fbd8f" stroke="#111" stroke-width="1.15"/>
<circle cx="969.40" cy="503.70" r="3.55" fill="#eef5ee" stroke="#111" stroke-width="1.15"/>
<circle cx="988.10" cy="487.10" r="3.55" fill="#8fbd8f" stroke="#111" stroke-width="1.15"/>
<circle cx="1000.00" cy="486.40" r="3.55" fill="#b5d3b5" stroke="#111" stroke-width="1.15"/>
<circle cx="1005.80" cy="458.20" r="3.55" fill="#a3c9a3" stroke="#111" stroke-width="1.15"/>
<circle cx="1008.80" cy="474.80" r="3.55" fill="#ffffff" stroke="#111" stroke-width="1.15"/>
<circle cx="1006.10" cy="475.20" r="3.55" fill="#e8f2e8" stroke="#111" stroke-width="1.15"/>
<circle cx="1014.50" cy="467.30" r="3.55" fill="#8fbd8f" stroke="#111" stroke-width="1.15"/>
<circle cx="1024.90" cy="482.20" r="3.55" fill="#b0d0b0" stroke="#111" stroke-width="1.15"/>
<circle cx="1027.70" cy="461.80" r="3.55" fill="#dcebdc" stroke="#111" stroke-width="1.15"/>
<circle cx="1035.00" cy="440.40" r="3.55" fill="#c0dac0" stroke="#111" stroke-width="1.15"/>
<circle cx="1036.50" cy="430.40" r="3.55" fill="#b0d0b0" stroke="#111" stroke-width="1.15"/>
<circle cx="1046.90" cy="423.30" r="3.55" fill="#e0ede0" stroke="#111" stroke-width="1.15"/>
<circle cx="1036.40" cy="472.90" r="3.55" fill="#9ac39a" stroke="#111" stroke-width="1.15"/>
<circle cx="1040.90" cy="471.00" r="3.55" fill="#ffffff" stroke="#111" stroke-width="1.15"/>
<circle cx="1048.10" cy="484.50" r="3.55" fill="#80b380" stroke="#111" stroke-width="1.15"/>
<circle cx="1071.30" cy="458.90" r="3.55" fill="#80b380" stroke="#111" stroke-width="1.15"/>
<circle cx="1086.00" cy="425.70" r="3.55" fill="#a0c5a0" stroke="#111" stroke-width="1.15"/>
<circle cx="1097.70" cy="447.10" r="3.55" fill="#b5d3b5" stroke="#111" stroke-width="1.15"/>
<circle cx="1109.50" cy="455.30" r="3.55" fill="#a3c9a3" stroke="#111" stroke-width="1.15"/>
<circle cx="1112.30" cy="433.20" r="3.55" fill="#dcebdc" stroke="#111" stroke-width="1.15"/>
<circle cx="1088.90" cy="479.20" r="3.55" fill="#b5d3b5" stroke="#111" stroke-width="1.15"/>
<circle cx="1087.30" cy="473.60" r="3.55" fill="#e8f2e8" stroke="#111" stroke-width="1.15"/>
<circle cx="1090.60" cy="467.30" r="3.55" fill="#d5e8d5" stroke="#111" stroke-width="1.15"/>
<circle cx="1137.10" cy="442.00" r="3.55" fill="#c0dac0" stroke="#111" stroke-width="1.15"/>
<circle cx="1167.80" cy="427.30" r="3.55" fill="#5e9c64" stroke="#111" stroke-width="1.15"/>
<circle cx="1200.00" cy="467.10" r="3.55" fill="#ffffff" stroke="#111" stroke-width="1.15"/>
<circle cx="1208.90" cy="440.30" r="3.55" fill="#a8cca8" stroke="#111" stroke-width="1.15"/>
<circle cx="1254.00" cy="411.70" r="3.55" fill="#4a8e55" stroke="#111" stroke-width="1.15"/>
<circle cx="1270.10" cy="292.90" r="3.55" fill="#0b5a33" stroke="#111" stroke-width="1.15"/>
<circle cx="1001.40" cy="397.80" r="3.55" fill="#dcebdc" stroke="#111" stroke-width="1.15"/>
<circle cx="1068.60" cy="394.60" r="3.55" fill="#b9d5b9" stroke="#111" stroke-width="1.15"/>
<circle cx="1115.40" cy="358.30" r="3.55" fill="#b5d3b5" stroke="#111" stroke-width="1.15"/>
<rect x="823.4" y="205.4" width="482.0" height="366.9" fill="none" stroke="#000" stroke-width="1.4"/>
<line x1="815.2" x2="823.4" y1="221.92" y2="221.92" stroke="#444" stroke-width="1.3"/>
<text x="811" y="229.12" font-size="22.5" text-anchor="end">6</text>
<line x1="815.2" x2="823.4" y1="324.58" y2="324.58" stroke="#444" stroke-width="1.3"/>
<text x="811" y="331.78" font-size="22.5" text-anchor="end">4</text>
<line x1="815.2" x2="823.4" y1="427.24" y2="427.24" stroke="#444" stroke-width="1.3"/>
<text x="811" y="434.44" font-size="22.5" text-anchor="end">2</text>
<line x1="815.2" x2="823.4" y1="529.90" y2="529.90" stroke="#444" stroke-width="1.3"/>
<text x="811" y="537.10" font-size="22.5" text-anchor="end">0</text>
<line x1="845.40" x2="845.40" y1="572.3" y2="580.6" stroke="#444" stroke-width="1.4"/>
<text x="846.00" y="600.9" font-size="22.5" text-anchor="middle" textLength="26.5" lengthAdjust="spacingAndGlyphs">0.5</text>
<line x1="991.33" x2="991.33" y1="572.3" y2="580.6" stroke="#444" stroke-width="1.4"/>
<text x="991.93" y="600.9" font-size="22.5" text-anchor="middle" textLength="26.5" lengthAdjust="spacingAndGlyphs">1.5</text>
<line x1="1137.26" x2="1137.26" y1="572.3" y2="580.6" stroke="#444" stroke-width="1.4"/>
<text x="1137.86" y="600.9" font-size="22.5" text-anchor="middle" textLength="26.5" lengthAdjust="spacingAndGlyphs">2.5</text>
<line x1="1283.19" x2="1283.19" y1="572.3" y2="580.6" stroke="#444" stroke-width="1.4"/>
<text x="1283.79" y="600.9" font-size="22.5" text-anchor="middle" textLength="26.5" lengthAdjust="spacingAndGlyphs">3.5</text>
<line x1="1305.4" x2="1313.4" y1="220.60" y2="220.60" stroke="#444" stroke-width="1.4"/>
<text x="1318.3" y="228.10" font-size="22.5" textLength="32.8" lengthAdjust="spacingAndGlyphs">100</text>
<line x1="1305.4" x2="1313.4" y1="282.35" y2="282.35" stroke="#444" stroke-width="1.4"/>
<text x="1318.3" y="289.85" font-size="22.5" textLength="22.3" lengthAdjust="spacingAndGlyphs">80</text>
<line x1="1305.4" x2="1313.4" y1="344.10" y2="344.10" stroke="#444" stroke-width="1.4"/>
<text x="1318.3" y="351.60" font-size="22.5" textLength="22.3" lengthAdjust="spacingAndGlyphs">60</text>
<line x1="1305.4" x2="1313.4" y1="405.85" y2="405.85" stroke="#444" stroke-width="1.4"/>
<text x="1318.3" y="413.35" font-size="22.5" textLength="22.3" lengthAdjust="spacingAndGlyphs">40</text>
<line x1="1305.4" x2="1313.4" y1="467.60" y2="467.60" stroke="#444" stroke-width="1.4"/>
<text x="1318.3" y="475.10" font-size="22.5" textLength="22.3" lengthAdjust="spacingAndGlyphs">20</text>
<line x1="1305.4" x2="1313.4" y1="529.35" y2="529.35" stroke="#444" stroke-width="1.4"/>
<text x="1318.3" y="536.85" font-size="22.5" >0</text>
<text x="879.2" y="632.1" font-size="24.5" textLength="399" lengthAdjust="spacingAndGlyphs">Heterotrophic bacteria x10<tspan dy="-9" font-size="15">6</tspan><tspan dy="9"> (cells ml</tspan><tspan dy="-9" font-size="15">-1</tspan><tspan dy="9">)</tspan></text>
<text transform="translate(785.7,538.2) rotate(-90)" font-size="24.5" textLength="312.5" lengthAdjust="spacingAndGlyphs">Rhodopsin x 10<tspan dy="-9" font-size="15">10</tspan><tspan dy="9"> (molec. ml</tspan><tspan dy="-9" font-size="15">-1</tspan><tspan dy="9">)</tspan></text>
<text transform="translate(1367.9,462.5) rotate(-90)" font-size="24.5" textLength="170" lengthAdjust="spacingAndGlyphs">Rhodopsin (pM)</text>
<text x="840" y="235.8" font-size="23" textLength="229" lengthAdjust="spacingAndGlyphs">y = 1.0 · 10<tspan dy="-8" font-size="14">4</tspan><tspan dy="8">x - 5.4 · 10</tspan><tspan dy="-8" font-size="14">9</tspan></text>
<text x="841" y="268.6" font-size="23" textLength="77.5" lengthAdjust="spacingAndGlyphs">r<tspan dy="-8" font-size="14">2</tspan><tspan dy="8"> = 0.57</tspan></text>
<text x="841" y="296.8" font-size="23" textLength="99.5" lengthAdjust="spacingAndGlyphs">p = 7 ·10<tspan dy="-8" font-size="14">-10</tspan></text>
<text x="1403.3" y="247" font-size="25" textLength="56.5" lengthAdjust="spacingAndGlyphs">Chl-<tspan font-style="italic">a</tspan></text>
<text x="1391.5" y="272.5" font-size="19" textLength="81.5" lengthAdjust="spacingAndGlyphs">(x10<tspan dy="-6" font-size="12">3</tspan><tspan dy="6"> pM)</tspan></text>
<rect x="1397.8" y="286" width="48.2" height="120" fill="url(#gb)"/>
<line x1="1445" x2="1453.8" y1="290.1" y2="290.1" stroke="#000" stroke-width="3.6"/>
<text x="1456.6" y="298.7" font-size="22">6.0</text>
<line x1="1445" x2="1453.8" y1="315.6" y2="315.6" stroke="#000" stroke-width="3.6"/>
<text x="1456.6" y="329.7" font-size="22">3.0</text>
<line x1="1445" x2="1453.8" y1="356.0" y2="356.0" stroke="#000" stroke-width="3.6"/>
<text x="1456.6" y="369.0" font-size="22">1.0</text>
<line x1="1445" x2="1453.8" y1="400.2" y2="400.2" stroke="#000" stroke-width="3.6"/>
<text x="1456.6" y="405.6" font-size="22">0.3</text>
</svg></body></html>
